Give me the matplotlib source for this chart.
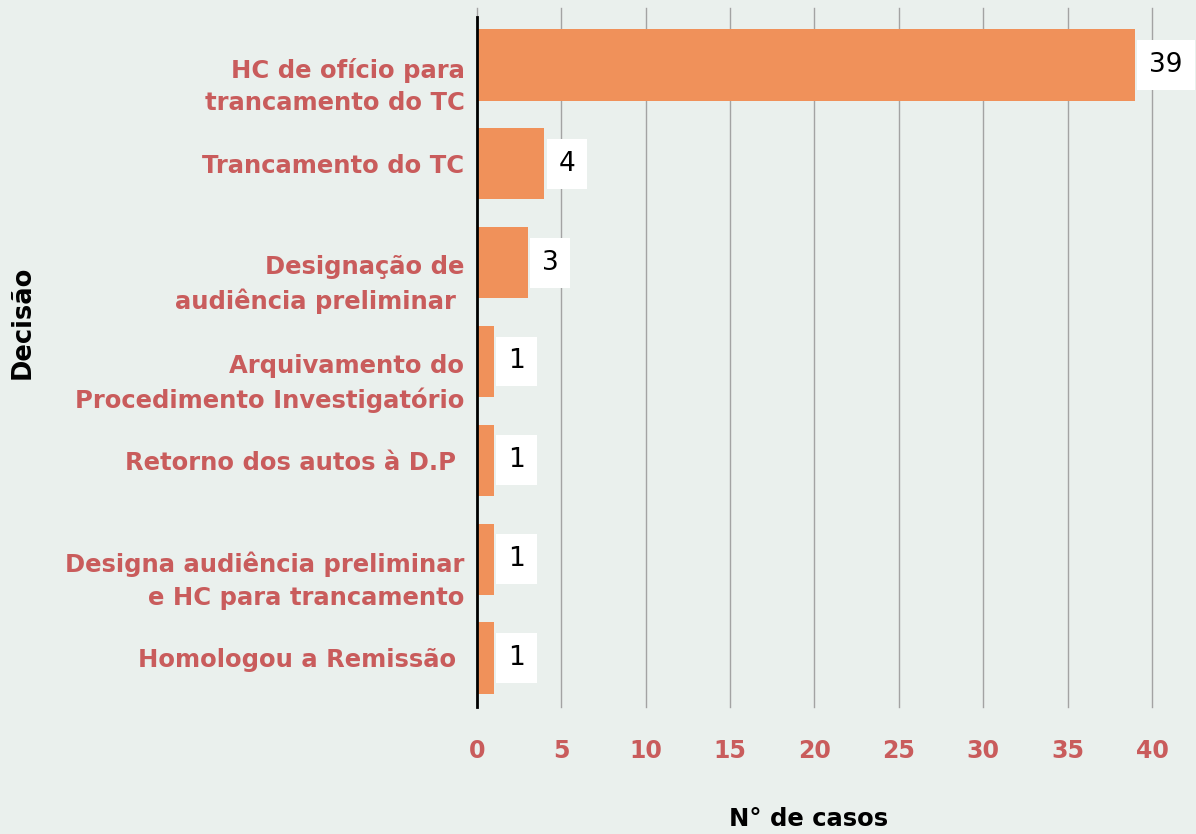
import matplotlib
matplotlib.use('Agg')
import matplotlib.pyplot as plt
import matplotlib.transforms as mtransforms

# dados
decisoes = ['HC de ofício para\ntrancamento do TC',
            'Trancamento do TC',
            'Designação de\naudiência preliminar ',
            'Arquivamento do\nProcedimento Investigatório',
            'Retorno dos autos à D.P ',
            'Designa audiência preliminar\ne HC para trancamento',
            'Homologou a Remissão ']
casos = [39, 4, 3, 1, 1, 1, 1]
xticks = [0, 5, 10, 15, 20, 25, 30, 35, 40]

fundo = '#eaf0ed'
laranja = '#f0915a'
vermelho = '#c95c5c'

plt.rcParams['font.family'] = ['DejaVu Sans']

fig = plt.figure(figsize=(11.96, 8.34), dpi=100, facecolor=fundo)
ax = fig.add_axes([0.3988, 0.1523, 0.5644, 0.8381])
ax.set_facecolor(fundo)

pos = list(range(len(casos)))
ax.barh(pos, casos, height=0.72, color=laranja, zorder=2)

for p, v in zip(pos, casos):
    ax.annotate(str(v), xy=(v, p), xytext=(10.2, 0), textcoords='offset points',
                ha='left', va='center', fontsize=19, color='black',
                bbox=dict(boxstyle='square,pad=0.45', fc='white', ec='none'),
                zorder=3, annotation_clip=False)

ax.set_xlim(0, 40)
ax.set_ylim(6.496, -0.577)
ax.set_xticks(xticks)
ax.set_xticklabels([str(t) for t in xticks], fontsize=17, fontweight='bold', color=vermelho)
ax.set_yticks(pos)
ax.set_yticklabels(decisoes, fontsize=17.5, fontweight='bold', color=vermelho,
                   linespacing=1.45)
ax.tick_params(axis='x', length=0, pad=23)
ax.tick_params(axis='y', length=0, pad=9)

# rótulos de duas linhas ficam um pouco abaixo no original
desloc = mtransforms.ScaledTranslation(0, -10.5 / 72, fig.dpi_scale_trans)
for lbl in ax.get_yticklabels():
    if '\n' in lbl.get_text():
        lbl.set_transform(lbl.get_transform() + desloc)

ax.grid(axis='x', color='#a3a3a3', linewidth=1, zorder=0)
ax.grid(axis='y', visible=False)
for linha in ax.get_xgridlines():
    linha.set_clip_on(False)
for s in ['top', 'right', 'bottom']:
    ax.spines[s].set_visible(False)
ax.spines['left'].set_color('black')
ax.spines['left'].set_linewidth(2)
ax.spines['left'].set_zorder(4)
ax.spines['left'].set_bounds(6.496, -0.486)

fig.text(0.6764, 0.004, 'N° de casos', ha='center', va='bottom',
         fontsize=17.5, fontweight='bold', color='black')
fig.text(0.019, 0.613, 'Decisão', ha='center', va='center', rotation=90,
         fontsize=18.5, fontweight='bold', color='black')

fig.savefig('out.png', dpi=100, facecolor=fundo)
